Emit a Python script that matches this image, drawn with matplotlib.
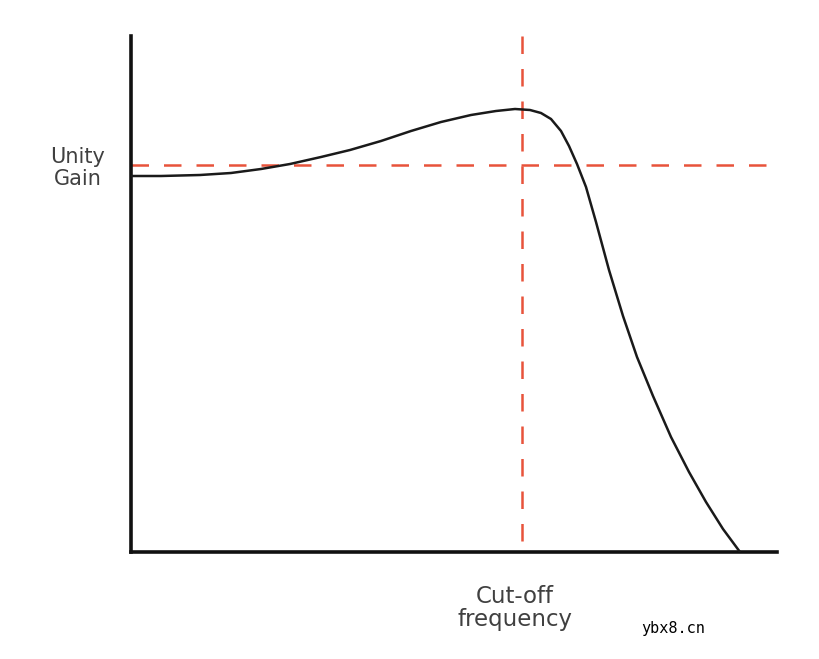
import matplotlib
matplotlib.use("Agg")
import matplotlib.pyplot as plt

# response curve (arbitrary units)
freq = [0, 30, 69, 100, 130, 159, 190, 219, 250, 280, 310, 340, 365, 384,
        399, 410, 420, 430, 438, 446, 455, 465, 478, 492, 506, 522, 540,
        558, 575, 592, 609]
gain = [376, 376, 377, 379, 383, 388, 395, 402, 411, 421, 430, 437, 441, 443,
        442, 439, 433, 421, 406, 388, 365, 330, 282, 236, 195, 156, 115,
        80, 50, 23, 0]

unity_gain = 387
cutoff = 391
x_max = 646
y_max = 516

red = "#e8533b"
txt = "#404040"

fig = plt.figure(figsize=(8.2, 6.59), dpi=100)
ax = fig.add_axes([131 / 820, 107 / 659, 646 / 820, 516 / 659])

ax.plot(freq, gain, color="#1a1a1a", lw=1.8, solid_capstyle="round", zorder=3)
# draw the dashed guides from the spine outwards so the dash phase matches
ax.plot([0, x_max], [unity_gain, unity_gain], color=red, lw=1.8, dashes=(7, 6), zorder=2)
ax.plot([cutoff, cutoff], [y_max, 0], color=red, lw=1.8, dashes=(7, 6), zorder=2)

ax.set_xlim(0, x_max)
ax.set_ylim(0, y_max)
ax.set_xticks([])
ax.set_yticks([])
for side in ("top", "right"):
    ax.spines[side].set_visible(False)
for side in ("left", "bottom"):
    ax.spines[side].set_linewidth(2.6)
    ax.spines[side].set_color("#111111")

fig.text(78 / 820, 1 - 168 / 659, "Unity\nGain", ha="center", va="center",
         fontsize=15, color=txt, family="DejaVu Sans", linespacing=1.15)
fig.text(515 / 820, 1 - 608 / 659, "Cut-off\nfrequency", ha="center", va="center",
         fontsize=16.5, color=txt, family="DejaVu Sans", linespacing=1.05)
fig.text(673 / 820, 1 - 629 / 659, "ybx8.cn", ha="center", va="center",
         fontsize=11, color="black", family="DejaVu Sans Mono")

fig.savefig("out.png", dpi=100, facecolor="white")
